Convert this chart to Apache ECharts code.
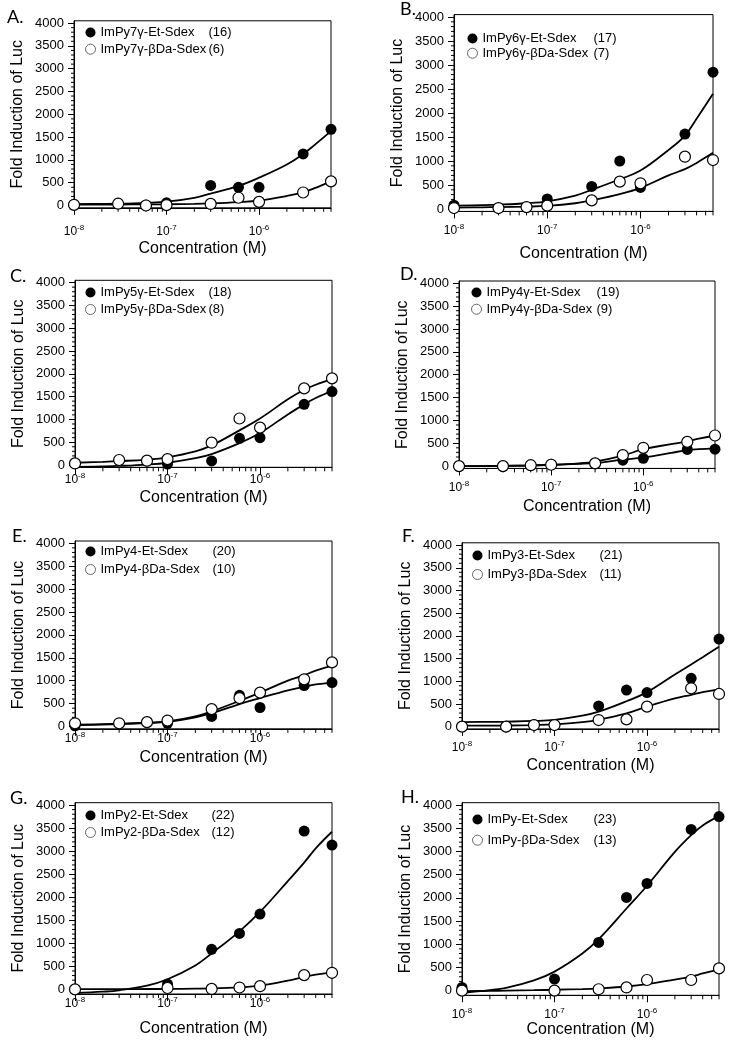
<!DOCTYPE html>
<html><head><meta charset="utf-8">
<script src="https://cdn.jsdelivr.net/npm/echarts@6/dist/echarts.min.js"></script>
<style>html,body{margin:0;padding:0;background:#fff}#c{width:730px;height:1050px}</style>
</head><body><div id="c"></div>
<script>
// ---- data ----
const conc = [1e-8, 3e-8, 6e-8, 1e-7, 3e-7, 6e-7, 1e-6, 3e-6, 6e-6];
const fitConc = [1e-8, 2e-8, 3e-8, 6e-8, 1e-7, 2e-7, 3e-7, 6e-7, 1e-6, 2e-6, 3e-6, 4e-6, 6e-6];
const yTicks = [0, 500, 1000, 1500, 2000, 2500, 3000, 3500, 4000];
const xMinorTicks = [2e-8,3e-8,4e-8,5e-8,6e-8,7e-8,8e-8,9e-8,2e-7,3e-7,4e-7,5e-7,6e-7,7e-7,8e-7,9e-7,2e-6,3e-6,4e-6,5e-6,6e-6];
const panelLetters = ['A.', 'B.', 'C.', 'D.', 'E.', 'F.', 'G.', 'H.'];
const etNames = ['ImPy7γ-Et-Sdex', 'ImPy6γ-Et-Sdex', 'ImPy5γ-Et-Sdex', 'ImPy4γ-Et-Sdex', 'ImPy4-Et-Sdex', 'ImPy3-Et-Sdex', 'ImPy2-Et-Sdex', 'ImPy-Et-Sdex'];
const etCounts = ['(16)', '(17)', '(18)', '(19)', '(20)', '(21)', '(22)', '(23)'];
const bdaNames = ['ImPy7γ-βDa-Sdex', 'ImPy6γ-βDa-Sdex', 'ImPy5γ-βDa-Sdex', 'ImPy4γ-βDa-Sdex', 'ImPy4-βDa-Sdex', 'ImPy3-βDa-Sdex', 'ImPy2-βDa-Sdex', 'ImPy-βDa-Sdex'];
const bdaCounts = ['(6)', '(7)', '(8)', '(9)', '(10)', '(11)', '(12)', '(13)'];
const xTitle = 'Concentration (M)';
const yTitle = 'Fold Induction of Luc';

// measured points (conc order)
const etA  = [20, 40, 10, 60, 440, 400, 400, 1130, 1670];
const bdaA = [15, 40, 0, 10, 35, 170, 80, 285, 530];
const etB  = [80, 20, 40, 210, 470, 1000, 450, 1560, 2850];
const bdaB = [20, 20, 40, 70, 180, 570, 535, 1090, 1020];
const etC  = [30, 100, 90, 20, 90, 585, 600, 1330, 1610];
const bdaC = [35, 110, 95, 130, 490, 1020, 820, 1680, 1900];
const etD  = [0, 0, 10, 40, 60, 130, 170, 365, 370];
const bdaD = [0, 0, 20, 30, 60, 240, 400, 530, 670];
const etE  = [15, 60, 95, 70, 220, 680, 415, 895, 960];
const bdaE = [70, 70, 95, 130, 380, 620, 740, 1030, 1400];
const etF  = [10, 10, 40, 40, 455, 805, 750, 1065, 1930];
const bdaF = [0, 0, 35, 35, 145, 160, 440, 845, 720];
const etG  = [0, null, null, 115, 870, 1215, 1635, 3435, 3130];
const bdaG = [0, null, null, 30, 10, 40, 70, 310, 360];
const etH  = [70, null, null, 250, 1040, 2010, 2310, 3475, 3750];
const bdaH = [0, null, null, 0, 30, 70, 230, 230, 480];

// fitted curves (fitConc order)
const fitEtA  = [30, 35, 40, 60, 85, 170, 260, 430, 610, 900, 1130, 1330, 1630];
const fitBdaA = [20, 20, 22, 25, 28, 35, 45, 75, 110, 210, 290, 380, 530];
const fitEtB  = [70, 80, 90, 120, 160, 280, 400, 620, 800, 1230, 1530, 1880, 2400];
const fitBdaB = [30, 35, 40, 50, 65, 120, 180, 310, 440, 700, 830, 960, 1170];
const fitEtC  = [-40, -30, -20, 10, 50, 150, 240, 480, 700, 1110, 1330, 1470, 1620];
const fitBdaC = [50, 70, 85, 120, 170, 300, 430, 760, 1020, 1440, 1650, 1760, 1890];
const fitEtD  = [0, 2, 5, 15, 30, 50, 65, 140, 190, 290, 350, 370, 390];
const fitBdaD = [0, 2, 5, 12, 25, 60, 100, 230, 370, 480, 540, 600, 670];
const fitEtE  = [30, 40, 50, 75, 100, 200, 290, 490, 620, 790, 870, 920, 960];
const fitBdaE = [40, 50, 60, 85, 110, 220, 330, 560, 740, 1000, 1120, 1220, 1330];
const fitEtF  = [100, 105, 110, 125, 150, 240, 330, 560, 760, 1150, 1370, 1530, 1760];
const fitBdaF = [20, 22, 25, 35, 50, 100, 150, 290, 440, 620, 700, 760, 820];
const fitEtG  = [-80, -50, -20, 80, 220, 520, 780, 1260, 1680, 2350, 2750, 3060, 3420];
const fitBdaG = [5, 5, 6, 8, 10, 15, 20, 45, 80, 190, 270, 320, 370];
const fitEtH  = [-50, 10, 60, 220, 410, 800, 1110, 1770, 2260, 2990, 3350, 3560, 3760];
const fitBdaH = [-10, -5, 0, 10, 20, 35, 50, 90, 140, 240, 300, 370, 460];

const etAll = [etA, etB, etC, etD, etE, etF, etG, etH];
const bdaAll = [bdaA, bdaB, bdaC, bdaD, bdaE, bdaF, bdaG, bdaH];
const fitEtAll = [fitEtA, fitEtB, fitEtC, fitEtD, fitEtE, fitEtF, fitEtG, fitEtH];
const fitBdaAll = [fitBdaA, fitBdaB, fitBdaC, fitBdaD, fitBdaE, fitBdaF, fitBdaG, fitBdaH];

// ---- layout (pixels) ----
const L = [
  {left: 74,  top: 20.8,  width: 257, height: 187,   ymin: -50,  lblM: 16, xGap: 33, lx: 90,  ly: 33,  pitch: 17.7, nw: 108, tx: 7,   ty: 8},
  {left: 454, top: 14.6,  width: 259, height: 196.8, ymin: -50,  lblM: 11, xGap: 34, lx: 472, ly: 39,  pitch: 15.7, nw: 111, tx: 400, ty: 0},
  {left: 75,  top: 280.3, width: 257, height: 187,   ymin: -50,  lblM: 4,  xGap: 22, lx: 90,  ly: 293, pitch: 18,   nw: 108, tx: 10,  ty: 267},
  {left: 459, top: 281,   width: 256, height: 187.4, ymin: -50,  lblM: 11, xGap: 30, lx: 476, ly: 293, pitch: 17.7, nw: 110, tx: 400, ty: 265},
  {left: 75,  top: 541,   width: 257, height: 187.8, ymin: -50,  lblM: 2,  xGap: 21, lx: 90,  ly: 552, pitch: 19,   nw: 112, tx: 12,  ty: 527},
  {left: 462, top: 542.8, width: 257, height: 186.1, ymin: -50,  lblM: 11, xGap: 29, lx: 477, ly: 556, pitch: 20,   nw: 112, tx: 402, ty: 527},
  {left: 75,  top: 802.7, width: 257, height: 191.3, ymin: -100, lblM: 2,  xGap: 27, lx: 90,  ly: 816, pitch: 18,   nw: 111, tx: 10,  ty: 789},
  {left: 462, top: 802.7, width: 257, height: 192.6, ymin: -100, lblM: 11, xGap: 26, lx: 477, ly: 820, pitch: 21.7, nw: 106, tx: 401, ty: 788}
];
const FONT = 'Liberation Sans, Arial, sans-serif';

const yMinor = [];
for (let i = 0; i + 1 < yTicks.length; i++) {
  const step = (yTicks[i + 1] - yTicks[i]) / 5;
  for (let k = 1; k < 5; k++) yMinor.push(yTicks[i] + k * step);
}

function tickRenderer(params, api) {
  const cs = params.coordSys;
  const bottom = cs.y + cs.height, left = cs.x;
  const children = [];
  xMinorTicks.forEach(v => {
    const p = api.coord([v, 0]);
    children.push({type: 'line', shape: {x1: p[0], y1: bottom, x2: p[0], y2: bottom + 4}, style: {stroke: '#000', lineWidth: 1}});
  });
  yMinor.forEach(v => {
    const p = api.coord([1e-8, v]);
    children.push({type: 'line', shape: {x1: left - 3, y1: p[1], x2: left, y2: p[1]}, style: {stroke: '#000', lineWidth: 1}});
  });
  return {type: 'group', children};
}

const countMap = {};
etNames.forEach((n, i) => countMap[n] = etCounts[i]);
bdaNames.forEach((n, i) => countMap[n] = bdaCounts[i]);

const grids = [], xAxes = [], yAxes = [], series = [], legends = [], graphics = [];
L.forEach((g, i) => {
  grids.push({left: g.left, top: g.top, width: g.width, height: g.height, show: true, borderColor: '#000', borderWidth: 1, backgroundColor: 'transparent'});
  xAxes.push({
    type: 'log', logBase: 10, gridIndex: i, min: 1e-8, max: 6e-6,
    name: xTitle, nameLocation: 'middle', nameGap: g.xGap,
    nameTextStyle: {fontSize: 16, color: '#000', fontFamily: FONT},
    axisLine: {onZero: false, lineStyle: {color: '#000', width: 1}},
    axisTick: {length: 7, lineStyle: {color: '#000'}},
    splitLine: {show: false},
    axisLabel: {
      margin: g.lblM, color: '#000', fontFamily: FONT, showMaxLabel: false,
      formatter: v => {
        const e = Math.log10(v);
        if (Math.abs(e - Math.round(e)) > 1e-6) return '';
        return '{b|10}{s|' + Math.round(e) + '}';
      },
      rich: {b: {fontSize: 12, lineHeight: 16, fontFamily: FONT, color: '#000'}, s: {fontSize: 8, verticalAlign: 'top', fontFamily: FONT, color: '#000'}}
    }
  });
  yAxes.push({
    type: 'value', gridIndex: i, min: g.ymin, max: 4050,
    name: yTitle, nameLocation: 'middle', nameGap: 48,
    nameTextStyle: {fontSize: 16, color: '#000', fontFamily: FONT},
    axisLine: {show: true, onZero: false, lineStyle: {color: '#000', width: 1}},
    axisTick: {show: true, length: 6, customValues: yTicks, lineStyle: {color: '#000'}},
    axisLabel: {customValues: yTicks, margin: 10, fontSize: 13, color: '#000', fontFamily: FONT, formatter: v => String(v)},
    splitLine: {show: false}
  });
  const mk = arr => conc.map((x, j) => [x, arr[j]]).filter(d => d[1] !== null);
  const mkFit = arr => fitConc.map((x, j) => [x, arr[j]]);
  series.push({type: 'line', name: etNames[i] + ' fit', xAxisIndex: i, yAxisIndex: i, data: mkFit(fitEtAll[i]), smooth: 0.4, showSymbol: false, silent: true, lineStyle: {color: '#000', width: 1.8}, z: 2});
  series.push({type: 'line', name: bdaNames[i] + ' fit', xAxisIndex: i, yAxisIndex: i, data: mkFit(fitBdaAll[i]), smooth: 0.4, showSymbol: false, silent: true, lineStyle: {color: '#000', width: 1.8}, z: 2});
  series.push({type: 'scatter', name: etNames[i], xAxisIndex: i, yAxisIndex: i, data: mk(etAll[i]), symbolSize: 11, itemStyle: {color: '#000', opacity: 1}, z: 3});
  series.push({type: 'scatter', name: bdaNames[i], xAxisIndex: i, yAxisIndex: i, data: mk(bdaAll[i]), symbolSize: 11, itemStyle: {color: '#fff', borderColor: '#000', borderWidth: 1.2, opacity: 1}, z: 4});
  series.push({type: 'custom', xAxisIndex: i, yAxisIndex: i, data: [[1e-7, 0]], renderItem: tickRenderer, silent: true, z: 1});
  legends.push({
    left: g.lx - 5, top: g.ly - 7, orient: 'vertical', padding: 0,
    itemWidth: 10, itemHeight: 10, itemGap: g.pitch - 14, selectedMode: false,
    data: [
      {name: etNames[i], icon: 'circle', itemStyle: {color: '#000', opacity: 1}},
      {name: bdaNames[i], icon: 'circle', itemStyle: {color: '#fff', borderColor: '#666', borderWidth: 1, opacity: 1}}
    ],
    formatter: n => '{n|' + n + '}{c|' + countMap[n] + '}',
    textStyle: {fontSize: 13, color: '#000', fontFamily: FONT,
      rich: {n: {width: g.nw, fontSize: 13, lineHeight: 14, fontFamily: FONT, color: '#000'}, c: {fontSize: 13, lineHeight: 14, fontFamily: FONT, color: '#000'}}}
  });
  graphics.push({type: 'text', left: g.tx, top: g.ty, style: {text: panelLetters[i], fontSize: 18, fontFamily: 'Lato, Open Sans, sans-serif', fill: '#000'}});
});

const chart = echarts.init(document.getElementById('c'), null, {renderer: 'canvas'});
chart.setOption({
  animation: false,
  backgroundColor: '#fff',
  grid: grids, xAxis: xAxes, yAxis: yAxes, series, legend: legends, graphic: graphics
});
</script></body></html>
